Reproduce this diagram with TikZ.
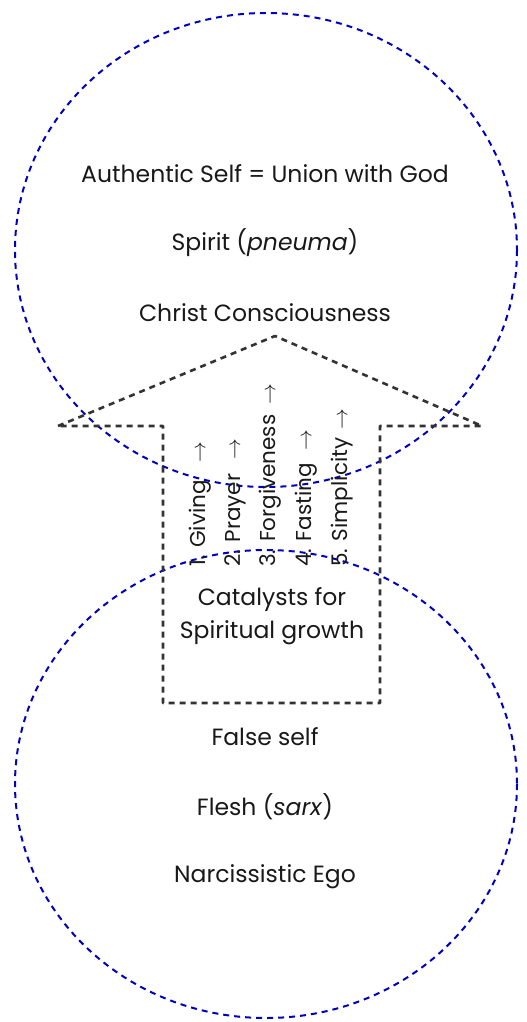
\documentclass[tikz,border=0pt]{standalone}
\usepackage{fontspec}
\setmainfont{Poppins}
\begin{document}
\begin{tikzpicture}[x=1pt,y=-1pt,
  lbl/.style={font=\fontsize{23.5}{26}\selectfont, inner sep=0pt, text=black!90},
  vlbl/.style={font=\fontsize{21.5}{24}\selectfont, inner sep=0pt, rotate=90, anchor=west, text=black!90},
  bluedash/.style={draw=blue!75!black, line width=2pt, dash pattern=on 6pt off 5pt},
  greydash/.style={draw=black!80, line width=2.6pt, dash pattern=on 6pt off 5pt, line join=round}]
\useasboundingbox (0,0) rectangle (527,1022);
\fill[white] (0,0) rectangle (527,1022);
% circles
\draw[bluedash] (266,250) ellipse [x radius=251, y radius=237];
\draw[bluedash] (266,784) ellipse [x radius=251, y radius=234];
% arrow shape
\coordinate (al) at (58,426);
\coordinate (ap) at (275,336);
\coordinate (ar) at (482,426);
\coordinate (rr) at (380,426);
\coordinate (rb) at (380,703);
\coordinate (lb) at (163,703);
\coordinate (ll) at (163,426);
\draw[greydash] (al) -- (ap) -- (ar) -- (rr) -- (rb) -- (lb) -- (ll) -- cycle;
% upper labels
\node[lbl] (auth) at (265,174) {Authentic Self = Union with God};
\node[lbl] (spirit) at (265,243) {Spirit (\textit{pneuma})};
\node[lbl] (christ) at (265,313) {Christ Consciousness};
% vertical labels
\node[vlbl] (c1) at (200,567) {1. Giving\hspace{18pt}$\rightarrow$};
\node[vlbl] (c2) at (235,567) {2. Prayer\hspace{14pt}$\rightarrow$};
\node[vlbl] (c3) at (270,567) {3. Forgiveness\hspace{10pt}$\rightarrow$};
\node[vlbl] (c4) at (306,567) {4. Fasting\hspace{13pt}$\rightarrow$};
\node[vlbl] (c5) at (342,567) {5. Simplicity\hspace{8pt}$\rightarrow$};
\node[lbl] (cat1) at (272,600) {Catalysts for};
\node[lbl] (cat2) at (272,633) {Spiritual growth};
% lower labels
\node[lbl] (false) at (265,737) {False self};
\node[lbl] (flesh) at (265,807) {Flesh (\textit{sarx})};
\node[lbl] (narc) at (265,877) {Narcissistic Ego};
\end{tikzpicture}
\end{document}
